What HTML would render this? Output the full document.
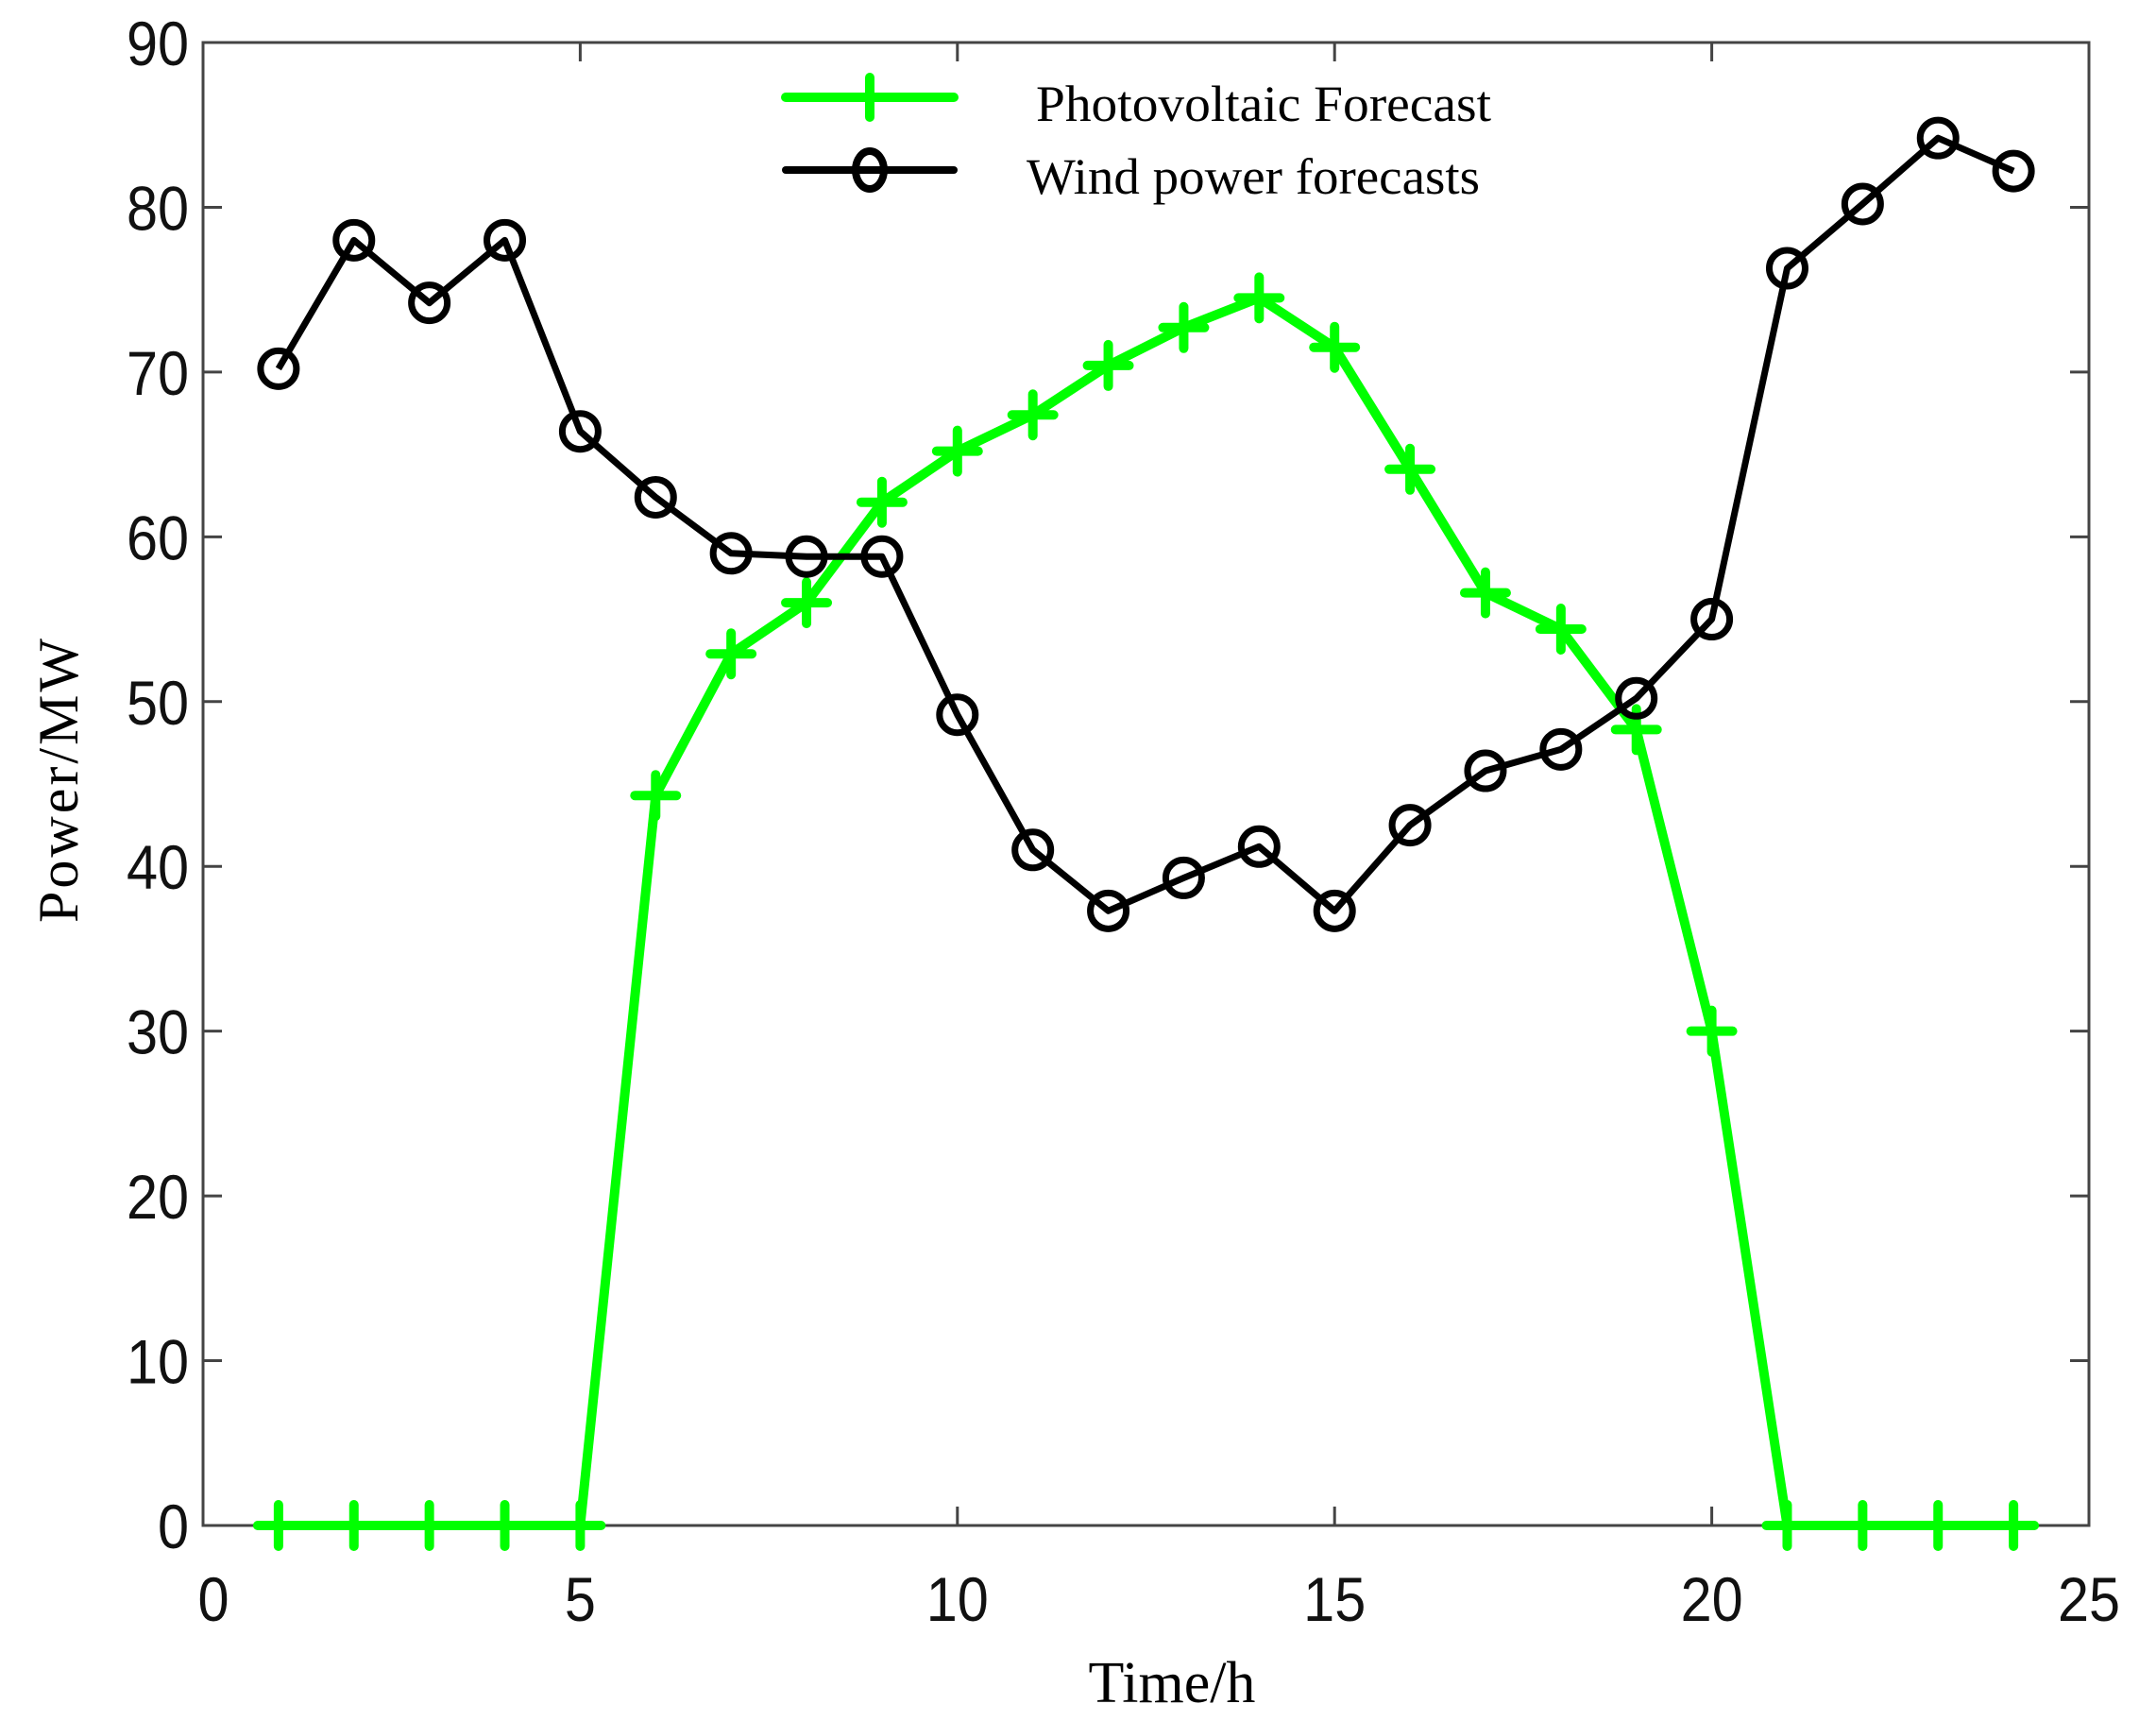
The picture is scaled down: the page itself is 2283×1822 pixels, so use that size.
<!DOCTYPE html>
<html><head><meta charset="utf-8"><style>
html,body{margin:0;padding:0;background:#fff;}
svg{display:block;}
</style></head><body>
<svg id="chart" width="2283" height="1822" viewBox="0 0 2283 1822" xmlns="http://www.w3.org/2000/svg">
<rect width="2283" height="1822" fill="#fff"/>
<g id="grid"></g>
<g id="series"></g>
<g id="legend">
  <line x1="832" y1="103" x2="1010" y2="103" stroke="#00ff00" stroke-width="10" stroke-linecap="round"/>
  <line x1="921" y1="82" x2="921" y2="124" stroke="#00ff00" stroke-width="10" stroke-linecap="round"/>
  <text x="1097" y="128" font-family="Liberation Serif, serif" font-size="54" textLength="482" lengthAdjust="spacingAndGlyphs">Photovoltaic Forecast</text>
  <line x1="832" y1="180" x2="1010" y2="180" stroke="#000" stroke-width="8" stroke-linecap="round"/>
  <ellipse cx="921" cy="180" rx="15" ry="20" fill="none" stroke="#000" stroke-width="8"/>
  <text x="1087" y="205" font-family="Liberation Serif, serif" font-size="54" textLength="480" lengthAdjust="spacingAndGlyphs">Wind power forecasts</text>
</g>
<text x="1241" y="1802" text-anchor="middle" font-family="Liberation Serif, serif" font-size="62">Time/h</text>
<text x="0" y="0" transform="translate(82,825) rotate(-90)" text-anchor="middle" font-family="Liberation Serif, serif" font-size="60" letter-spacing="3">Power/MW</text>
</svg>
<script>
const hours = [1,2,3,4,5,6,7,8,9,10,11,12,13,14,15,16,17,18,19,20,21,22,23,24];
const pvValues = [0,0,0,0,0,44.3,52.9,56,62.1,65.2,67.4,70.4,72.7,74.5,71.5,64.1,56.6,54.4,48.3,30,0,0,0,0];
const windValues = [70.2,78,74.2,78,66.4,62.4,59,58.8,58.8,49.2,41,37.3,39.3,41.2,37.3,42.5,45.8,47.1,50.2,55,76.3,80.2,84.2,82.2];
const xTicks = [0,5,10,15,20,25];
const yTicks = [0,10,20,30,40,50,60,70,80,90];

const L=215,R=2212,T=45,B=1615;
const xMin=0,xMax=25,yMin=0,yMax=90;
const sx=v=>L+(v-xMin)/(xMax-xMin)*(R-L);
const sy=v=>B-(v-yMin)/(yMax-yMin)*(B-T);
const NS='http://www.w3.org/2000/svg';
function mk(tag,attrs,parent){const e=document.createElementNS(NS,tag);for(const k in attrs)e.setAttribute(k,attrs[k]);parent.appendChild(e);return e;}
const grid=document.getElementById('grid');
const ser=document.getElementById('series');

const frame=mk('rect',{x:L,y:T,width:R-L,height:B-T,fill:'none',stroke:'#444',"stroke-width":3},grid);



xTicks.forEach(t=>{
  const x=sx(t);
  mk('line',{x1:x,y1:B,x2:x,y2:B-20,stroke:'#444',"stroke-width":3},grid);
  mk('line',{x1:x,y1:T,x2:x,y2:T+20,stroke:'#444',"stroke-width":3},grid);
  const cx=x+(t===0?11:0);
  const tx=mk('text',{x:0,y:0,transform:`translate(${cx},1716) scale(0.9,1)`,"text-anchor":"middle","font-family":"Liberation Sans, sans-serif","font-size":"66",fill:"#111"},grid);
  tx.textContent=t;
  
  
});
yTicks.forEach(t=>{
  const y=sy(t);
  mk('line',{x1:L,y1:y,x2:L+20,y2:y,stroke:'#444',"stroke-width":3},grid);
  mk('line',{x1:R,y1:y,x2:R-20,y2:y,stroke:'#444',"stroke-width":3},grid);
  const tx=mk('text',{x:0,y:0,transform:`translate(200,${y+24}) scale(0.9,1)`,"text-anchor":"end","font-family":"Liberation Sans, sans-serif","font-size":"66",fill:"#111"},grid);
  tx.textContent=t;
  
  
});

// PV series
const pvPts=hours.map((h,i)=>sx(h)+','+sy(pvValues[i])).join(' ');
const pvLine=mk('polyline',{points:pvPts,fill:'none',stroke:'#00ff00',"stroke-width":10,"stroke-linejoin":"round","stroke-linecap":"round"},ser);


hours.forEach((h,i)=>{
  const x=sx(h),y=sy(pvValues[i]);
  const g=mk('path',{d:`M${x-22},${y}H${x+22}M${x},${y-22}V${y+22}`,stroke:'#00ff00',"stroke-width":10,"stroke-linecap":"round",fill:'none'},ser);
  
  
});

// Wind series
const wPts=hours.map((h,i)=>sx(h)+','+sy(windValues[i])).join(' ');
const wLine=mk('polyline',{points:wPts,fill:'none',stroke:'#000',"stroke-width":7,"stroke-linejoin":"round"},ser);


hours.forEach((h,i)=>{
  const c=mk('circle',{cx:sx(h),cy:sy(windValues[i]),r:19,fill:'none',stroke:'#000',"stroke-width":7},ser);
  
  
});
</script>
</body></html>
